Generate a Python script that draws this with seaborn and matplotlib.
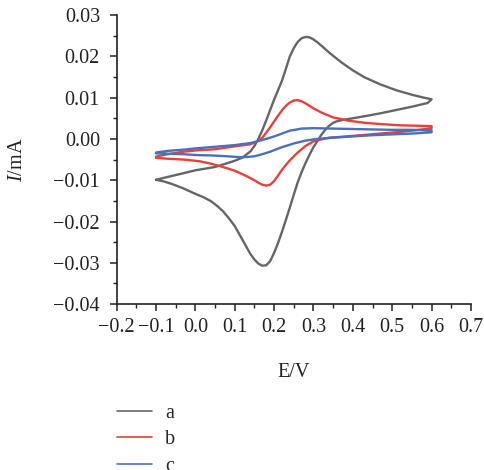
import numpy as np
import pandas as pd
import matplotlib
matplotlib.use("Agg")
import matplotlib.pyplot as plt
from matplotlib.ticker import MultipleLocator, FuncFormatter
import seaborn as sns

# Cyclic voltammograms: potential (V) and current (mA) traced around each loop,
# forward scan from -0.1 V to 0.6 V, then reverse scan back to -0.1 V.
e_a = [-0.10, -0.07, -0.03, 0.00, 0.05, 0.10, 0.12, 0.14, 0.15, 0.16, 0.17, 0.18, 0.19,
       0.20, 0.21, 0.22, 0.23, 0.24, 0.25, 0.26, 0.27, 0.28, 0.29, 0.30, 0.31, 0.32, 0.34,
       0.37, 0.40, 0.43, 0.47, 0.51, 0.55, 0.58, 0.595, 0.60,
       0.59, 0.55, 0.51, 0.47, 0.43, 0.40, 0.38, 0.36, 0.35, 0.34, 0.33, 0.32, 0.31, 0.30,
       0.29, 0.28, 0.27, 0.26, 0.25, 0.24, 0.23, 0.22, 0.21, 0.20, 0.19, 0.18, 0.17, 0.16,
       0.15, 0.14, 0.12, 0.10, 0.085, 0.07, 0.055, 0.04, 0.02, 0.00, -0.03, -0.06, -0.08,
       -0.10]
i_a = [-0.0099, -0.0092, -0.0083, -0.0076, -0.0068, -0.0053, -0.0045, -0.0030, -0.0017,
       0.0000, 0.0021, 0.0045, 0.0070, 0.0095, 0.0118, 0.0141, 0.0170, 0.0200, 0.0220,
       0.0235, 0.0244, 0.0247, 0.0246, 0.0241, 0.0234, 0.0226, 0.0209,
       0.0186, 0.0166, 0.0149, 0.0132, 0.0118, 0.0107, 0.0100, 0.0097, 0.0096,
       0.0087, 0.0078, 0.0070, 0.0062, 0.0055, 0.0050, 0.0047, 0.0043, 0.0039, 0.0032,
       0.0022, 0.0010, -0.0005, -0.0020, -0.0038, -0.0058, -0.0080, -0.0105, -0.0135,
       -0.0166, -0.0196, -0.0225, -0.0252, -0.0276, -0.0296, -0.0306, -0.0307, -0.0302,
       -0.0292, -0.0279, -0.0245, -0.0211, -0.0192, -0.0175, -0.0162, -0.0151, -0.0141,
       -0.0133, -0.0120, -0.0109, -0.0103, -0.0099]

e_b = [-0.10, -0.07, -0.03, 0.00, 0.05, 0.10, 0.14, 0.16, 0.17, 0.18, 0.19, 0.20, 0.21,
       0.22, 0.23, 0.24, 0.25, 0.26, 0.27, 0.28, 0.29, 0.30, 0.32, 0.35, 0.39, 0.43, 0.47,
       0.52, 0.56, 0.60,
       0.60, 0.56, 0.52, 0.47, 0.42, 0.37, 0.34, 0.32, 0.30, 0.28, 0.26, 0.24, 0.23, 0.22,
       0.21, 0.20, 0.19, 0.18, 0.17, 0.16, 0.15, 0.13, 0.10, 0.07, 0.04, 0.01, -0.03,
       -0.07, -0.10]
i_b = [-0.0043, -0.0037, -0.0031, -0.0028, -0.0025, -0.0018, -0.0013, -0.0005, 0.0003,
       0.0015, 0.0028, 0.0042, 0.0056, 0.0069, 0.0080, 0.0088, 0.0093, 0.0094, 0.0091,
       0.0086, 0.0080, 0.0074, 0.0064, 0.0052, 0.0044, 0.0039, 0.0036,
       0.0033, 0.0032, 0.0031,
       0.0026, 0.0021, 0.0017, 0.0013, 0.0009, 0.0005, 0.0003, -0.0001, -0.0006, -0.0017,
       -0.0033, -0.0052, -0.0063, -0.0075, -0.0089, -0.0102, -0.0111, -0.0113, -0.0111,
       -0.0106, -0.0100, -0.0090, -0.0077, -0.0068, -0.0060, -0.0054, -0.0050, -0.0048,
       -0.0046]

e_c = [-0.10, -0.07, -0.03, 0.00, 0.05, 0.10, 0.14, 0.16, 0.18, 0.20, 0.22, 0.24, 0.27,
       0.30, 0.35, 0.40, 0.45, 0.50, 0.55, 0.60,
       0.60, 0.55, 0.50, 0.45, 0.40, 0.35, 0.31, 0.28, 0.25, 0.22, 0.19, 0.17, 0.15, 0.13,
       0.11, 0.08, 0.04, 0.00, -0.03, -0.07, -0.10]
i_c = [-0.0033, -0.0029, -0.0026, -0.0023, -0.0019, -0.0015, -0.0010, -0.0005, 0.0000,
       0.0006, 0.0013, 0.0020, 0.0025, 0.0026, 0.0025, 0.0024, 0.0023, 0.0022, 0.0022,
       0.0021,
       0.0016, 0.0013, 0.0011, 0.0009, 0.0006, 0.0003, 0.0000, -0.0004, -0.0011, -0.0020,
       -0.0031, -0.0037, -0.0042, -0.0044, -0.0044, -0.0042, -0.0040, -0.0039, -0.0037,
       -0.0036, -0.0035]

labels = ["a", "b", "c"]
colors = ["#666666", "#e8403a", "#4a70bb"]

frames = []
for lab, e, i in zip(labels, [e_a, e_b, e_c], [i_a, i_b, i_c]):
    frames.append(pd.DataFrame({"E": e, "I": i, "sample": lab,
                                "order": np.arange(len(e))}))
df = pd.concat(frames, ignore_index=True)

sns.set_style("ticks")
plt.rcParams["font.family"] = ["Liberation Serif", "DejaVu Serif"]
plt.rcParams["mathtext.fontset"] = "custom"
plt.rcParams["mathtext.rm"] = "Liberation Serif"
plt.rcParams["mathtext.it"] = "Liberation Serif:italic"

fig = plt.figure(figsize=(4.84, 4.70), dpi=100)
ax = fig.add_axes([0.241, 0.353, 0.732, 0.615])

sns.lineplot(data=df, x="E", y="I", hue="sample", units="sample", estimator=None,
             sort=False, palette=colors, linewidth=1.7, ax=ax, legend=False)

ax.set_xlim(-0.2, 0.7)
ax.set_ylim(-0.04, 0.03)
ax.xaxis.set_major_locator(MultipleLocator(0.1))
ax.xaxis.set_minor_locator(MultipleLocator(0.05))
ax.yaxis.set_major_locator(MultipleLocator(0.01))
ax.yaxis.set_minor_locator(MultipleLocator(0.005))


def fmt(decimals):
    def f(v, pos):
        s = f"{v:.{decimals}f}"
        if float(s) == 0:
            s = s.lstrip("-")
        return s.replace("-", "\u2212")
    return FuncFormatter(f)


ax.xaxis.set_major_formatter(fmt(1))
ax.yaxis.set_major_formatter(fmt(2))

sns.despine(ax=ax)
for s in ("left", "bottom"):
    ax.spines[s].set_linewidth(1.2)
    ax.spines[s].set_color("#222222")
ax.tick_params(which="major", direction="out", length=5, width=1.1,
               labelsize=14.5, colors="#222222")
ax.tick_params(which="minor", direction="out", length=3, width=1.0, colors="#222222")
ax.tick_params(axis="x", which="major", pad=5)
ax.tick_params(axis="y", which="major", pad=7)

ax.set_xlabel("E/V", fontsize=14.5, labelpad=19, color="#222222")
ax.set_ylabel(r"$\mathit{I}$/mA", fontsize=14.5, color="#222222")
ax.yaxis.set_label_coords(-0.252, 0.5)

handles = [plt.Line2D([], [], color=c, linewidth=1.2) for c in colors]
fig.legend(handles, labels, loc="upper left", bbox_to_anchor=(0.225, 0.158),
           frameon=False, fontsize=14.5, handlelength=1.75, handletextpad=0.65,
           labelspacing=0.36, borderaxespad=0)

fig.savefig("out.png", dpi=100)
